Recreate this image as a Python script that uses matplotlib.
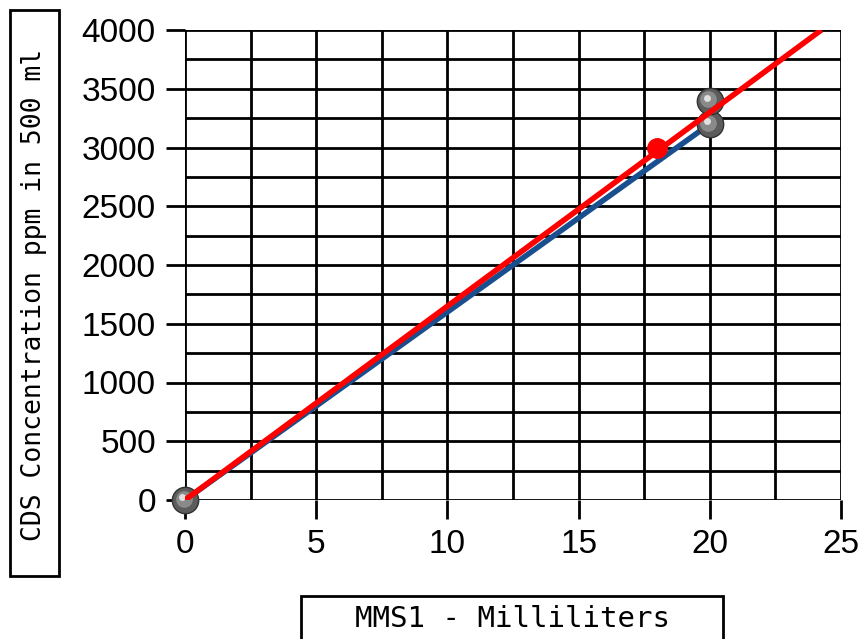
import matplotlib
matplotlib.use("Agg")
import matplotlib.pyplot as plt
import matplotlib.transforms as mtransforms
from matplotlib.patches import Rectangle
from matplotlib.ticker import MultipleLocator

# data
points_x = [0, 20, 20]
points_y = [0, 3200, 3400]
red_point_x = [18]
red_point_y = [3000]
blue_line_x = [0, 20]
blue_line_y = [0, 3200]
red_line_x = [0, 24.25]
red_line_y = [0, 4000]

x_ticks = [0, 5, 10, 15, 20, 25]
y_ticks = [0, 500, 1000, 1500, 2000, 2500, 3000, 3500, 4000]
x_label = "MMS1 - Milliliters"
y_label = "CDS Concentration ppm in 500 ml"

W, H = 863, 639
fig = plt.figure(figsize=(W / 100, H / 100), dpi=100)
ax = fig.add_axes([185 / W, 1 - 500 / H, (841 - 185) / W, (500 - 30) / H])

ax.set_xlim(0, 25)
ax.set_ylim(0, 4000)
ax.set_xticks(x_ticks)
ax.set_yticks(y_ticks)
ax.xaxis.set_minor_locator(MultipleLocator(2.5))
ax.yaxis.set_minor_locator(MultipleLocator(250))
ax.grid(True, which="both", color="black", linewidth=2)
ax.tick_params(which="major", length=14, width=2, labelsize=24, pad=7, color="black")
ax.tick_params(which="minor", length=0)
for sp in ax.spines.values():
    sp.set_visible(False)
ax.set_axisbelow(True)
for lab in ax.get_xticklabels() + ax.get_yticklabels():
    lab.set_family("Liberation Sans")

# lines
ax.plot(blue_line_x, blue_line_y, color="#1a4f8f", linewidth=4, zorder=3, solid_capstyle="butt")

# gray spheres: base + two highlight layers
ax.plot(points_x, points_y, "o", markersize=19, markerfacecolor="#5c5c5c",
        markeredgecolor="#333333", markeredgewidth=1, zorder=4, clip_on=False)
hl1 = ax.transData + mtransforms.ScaledTranslation(-1.5 / 100, 1.5 / 100, fig.dpi_scale_trans)
ax.plot(points_x, points_y, "o", markersize=12, markerfacecolor="#8a8a8a",
        markeredgewidth=0, zorder=4, transform=hl1, clip_on=False)
hl2 = ax.transData + mtransforms.ScaledTranslation(-3 / 100, 3 / 100, fig.dpi_scale_trans)
ax.plot(points_x, points_y, "o", markersize=5, markerfacecolor="#e0e0e0",
        markeredgewidth=0, zorder=4, transform=hl2, clip_on=False)

ax.plot(red_point_x, red_point_y, "o", markersize=14, color="red", zorder=4)
ax.plot(red_line_x, red_line_y, color="red", linewidth=4, zorder=5, solid_capstyle="butt")

# boxed axis labels
fig.patches.append(Rectangle((10 / W, 1 - 576 / H), 49 / W, 566 / H, transform=fig.transFigure,
                             facecolor="white", edgecolor="black", linewidth=2))
fig.text(34 / W, 1 - 295 / H, y_label, rotation=90, ha="center", va="center",
         family="DejaVu Sans Mono", fontsize=19)
fig.patches.append(Rectangle((301 / W, 1 - 650 / H), 422 / W, 54 / H, transform=fig.transFigure,
                             facecolor="white", edgecolor="black", linewidth=2))
fig.text(512 / W, 1 - 619 / H, x_label, ha="center", va="center",
         family="DejaVu Sans Mono", fontsize=21)

fig.savefig("out.png", dpi=100)
